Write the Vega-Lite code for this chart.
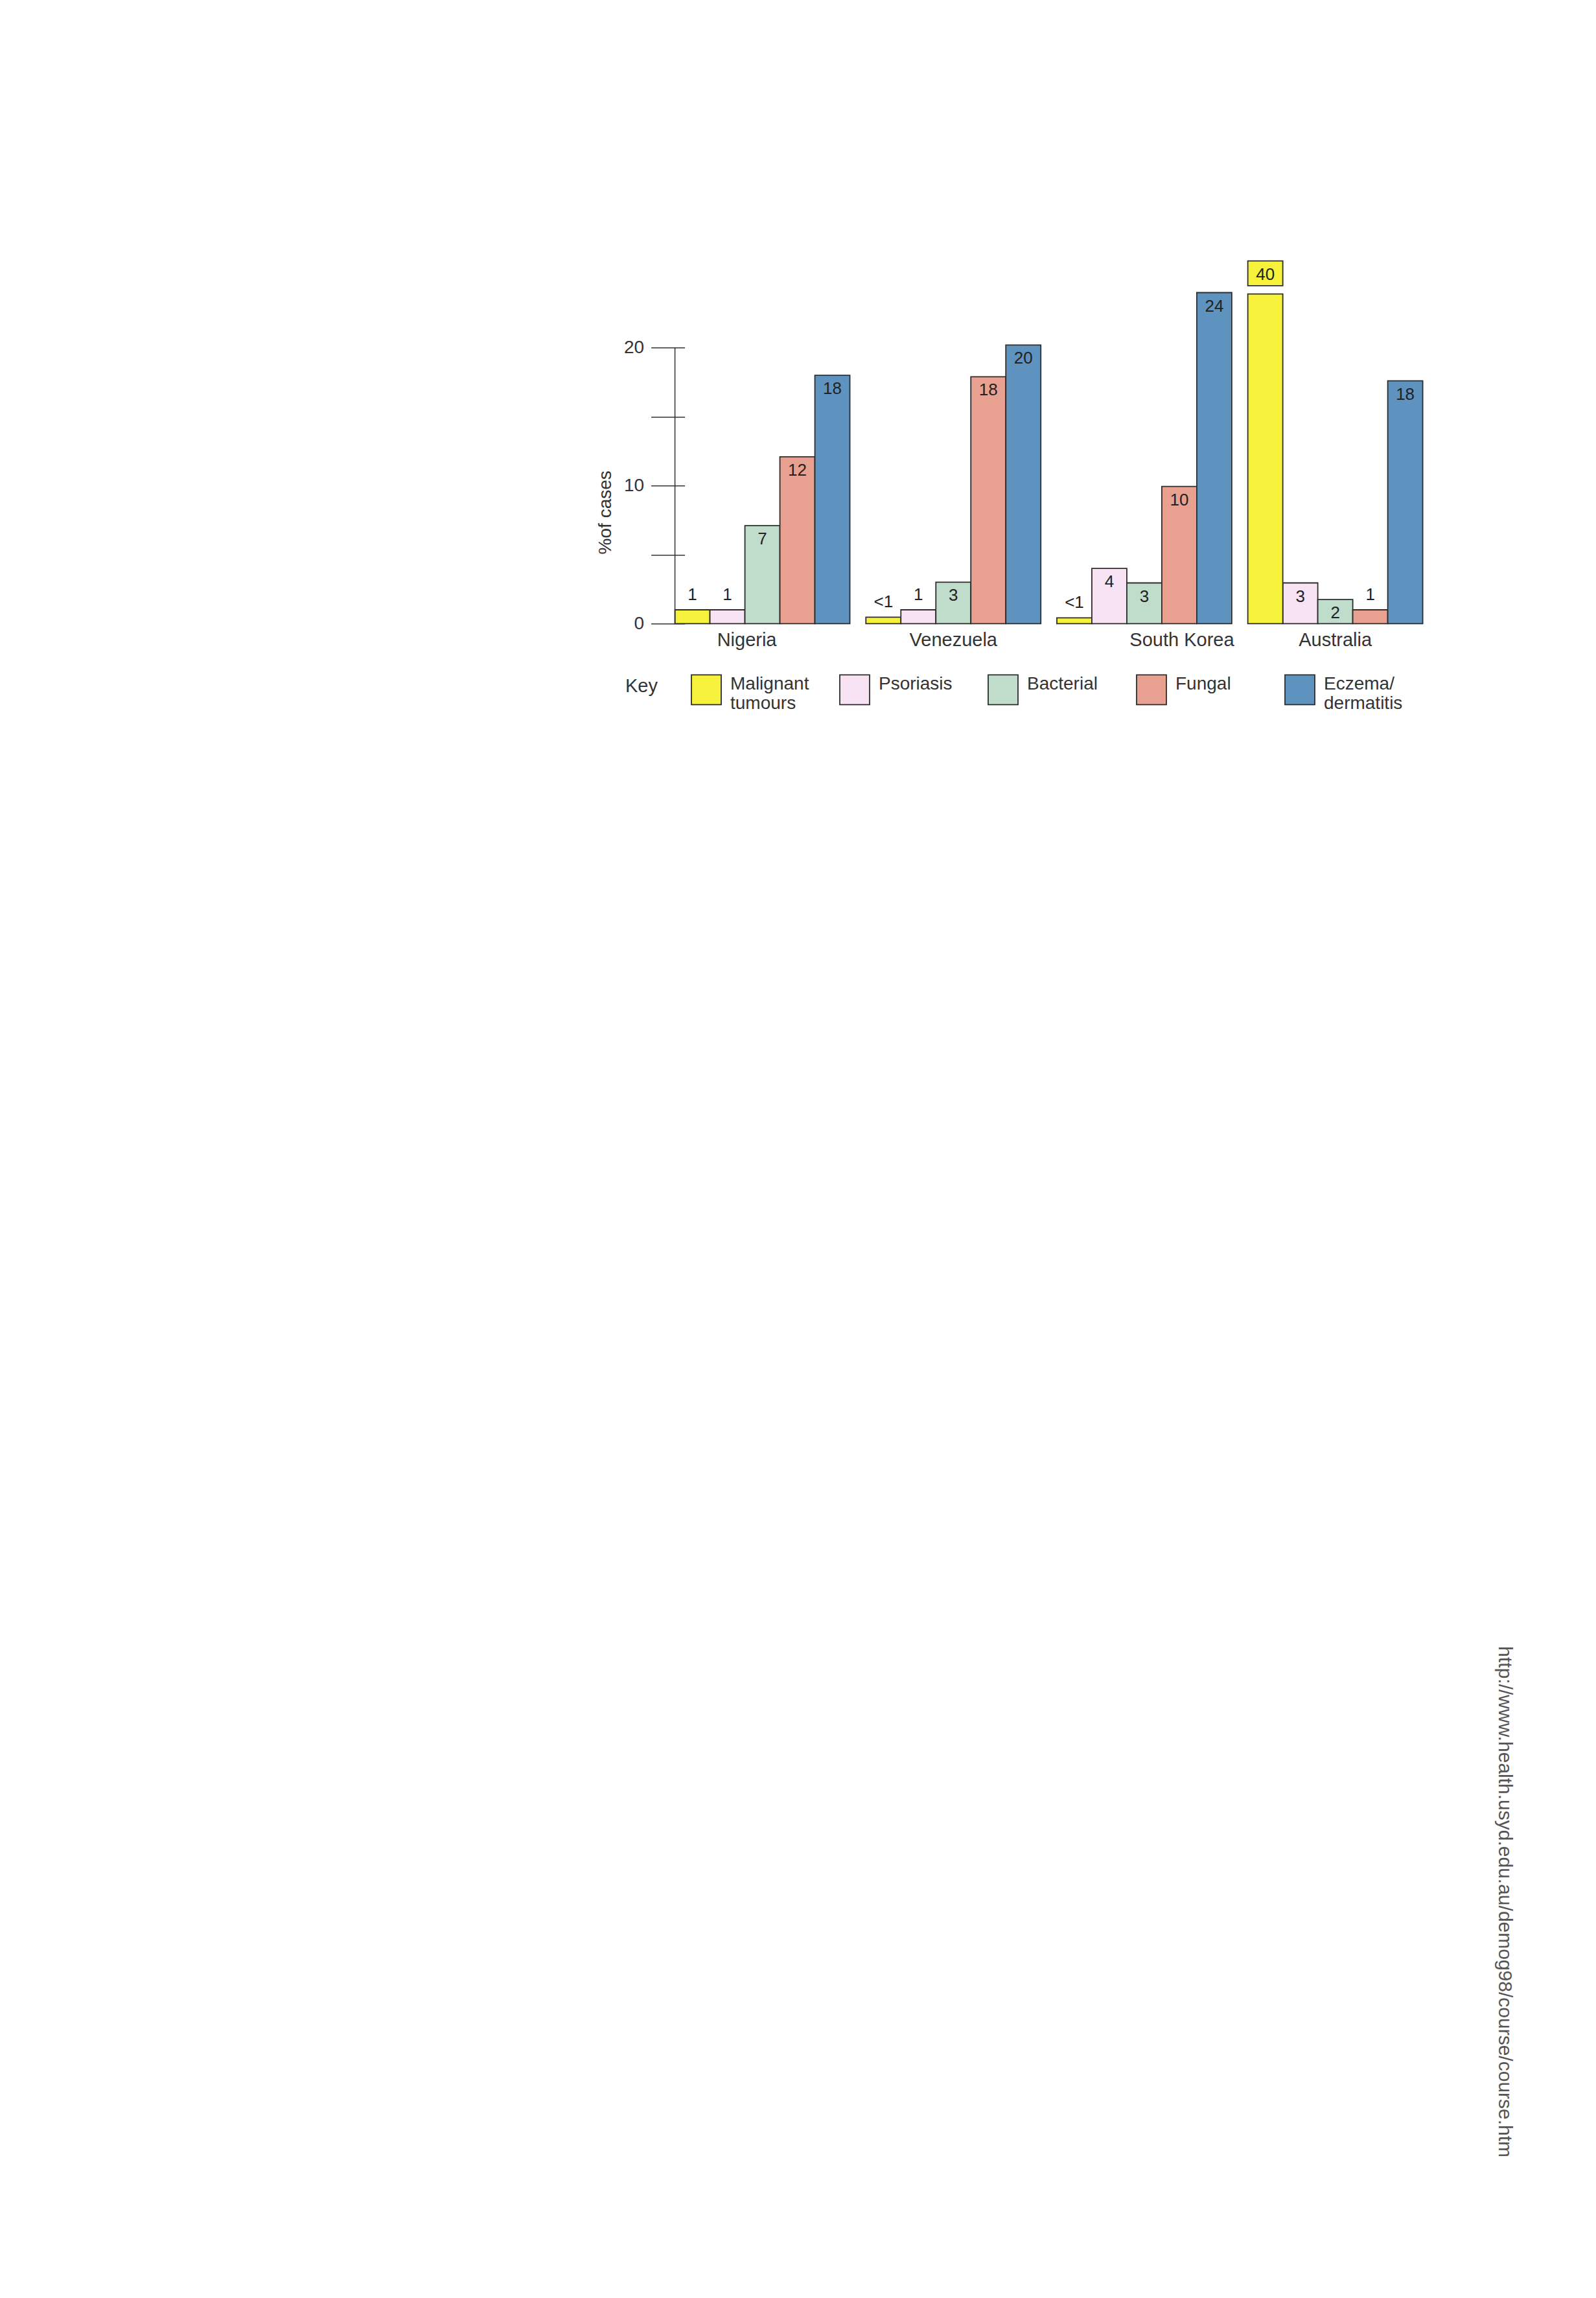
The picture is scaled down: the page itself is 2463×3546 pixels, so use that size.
{
  "$schema": "https://vega.github.io/schema/vega-lite/v6.json",
  "autosize": {"type": "none"},
  "padding": {"left": 1041.6, "top": 398.3, "right": 267.4, "bottom": 2583.7},
  "width": 1154,
  "height": 564,
  "background": "#ffffff",
  "config": {
    "view": {"stroke": null},
    "font": "Liberation Sans"
  },
  "title": {
    "text": "http://www.health.usyd.edu.au/demog98/course/course.htm",
    "orient": "right",
    "anchor": "start",
    "frame": "group",
    "offset": 110,
    "dx": 2142,
    "font": "Liberation Sans",
    "fontSize": 30,
    "fontWeight": "normal",
    "color": "#555555"
  },
  "datasets": {
    "main": [
      {"country": "Nigeria", "disease": "Malignant tumours", "value": 1, "label": "1"},
      {"country": "Nigeria", "disease": "Psoriasis", "value": 1, "label": "1"},
      {"country": "Nigeria", "disease": "Bacterial", "value": 7.1, "label": "7"},
      {"country": "Nigeria", "disease": "Fungal", "value": 12.1, "label": "12"},
      {"country": "Nigeria", "disease": "Eczema/dermatitis", "value": 18, "label": "18"},
      {"country": "Venezuela", "disease": "Malignant tumours", "value": 0.47, "label": "<1"},
      {"country": "Venezuela", "disease": "Psoriasis", "value": 1, "label": "1"},
      {"country": "Venezuela", "disease": "Bacterial", "value": 3, "label": "3"},
      {"country": "Venezuela", "disease": "Fungal", "value": 17.9, "label": "18"},
      {"country": "Venezuela", "disease": "Eczema/dermatitis", "value": 20.2, "label": "20"},
      {"country": "South Korea", "disease": "Malignant tumours", "value": 0.42, "label": "<1"},
      {"country": "South Korea", "disease": "Psoriasis", "value": 4, "label": "4"},
      {"country": "South Korea", "disease": "Bacterial", "value": 2.95, "label": "3"},
      {"country": "South Korea", "disease": "Fungal", "value": 9.95, "label": "10"},
      {"country": "South Korea", "disease": "Eczema/dermatitis", "value": 24, "label": "24"},
      {"country": "Australia", "disease": "Malignant tumours", "value": 40, "label": "40"},
      {"country": "Australia", "disease": "Psoriasis", "value": 2.95, "label": "3"},
      {"country": "Australia", "disease": "Bacterial", "value": 1.75, "label": "2"},
      {"country": "Australia", "disease": "Fungal", "value": 1, "label": "1"},
      {"country": "Australia", "disease": "Eczema/dermatitis", "value": 17.6, "label": "18"}
    ],
    "broken": [
      {"country": "Australia", "disease": "Malignant tumours", "lo": 0, "hi": 23.9, "label": ""},
      {"country": "Australia", "disease": "Malignant tumours", "lo": 24.5, "hi": 26.3, "label": "40"}
    ]
  },
  "encoding": {
    "x": {
      "field": "country",
      "type": "nominal",
      "scale": {"domain": ["Nigeria", "Venezuela", "South Korea", "Australia"], "paddingInner": 0.084, "paddingOuter": 0},
      "axis": null
    },
    "xOffset": {
      "field": "disease",
      "type": "nominal",
      "scale": {"domain": ["Malignant tumours", "Psoriasis", "Bacterial", "Fungal", "Eczema/dermatitis"], "paddingInner": 0, "paddingOuter": 0}
    }
  },
  "layer": [
    {
      "data": {"name": "main"},
      "transform": [{"filter": "datum.value <= 30"}],
      "mark": {"type": "bar", "stroke": "#2d2d2d", "strokeWidth": 1.8, "opacity": 1},
      "encoding": {
        "y": {
          "field": "value",
          "type": "quantitative",
          "scale": {"domain": [0, 26.5], "nice": false, "zero": true},
          "axis": {
            "values": [0, 5, 10, 15, 20],
            "offset": -15,
            "tickSize": 52,
            "tickColor": "#333333",
            "tickWidth": 1.5,
            "domain": false,
            "grid": false,
            "labelExpr": "datum.value % 10 === 0 ? datum.label : ''",
            "labelPadding": 11,
            "labelFont": "Liberation Sans",
            "labelFontSize": 28,
            "labelColor": "#333333",
            "title": "%of cases",
            "titleFont": "Liberation Sans",
            "titleFontSize": 28,
            "titleFontWeight": "normal",
            "titleColor": "#333333",
            "titlePadding": 14,
            "titleY": 392
          }
        },
        "color": {
          "field": "disease",
          "type": "nominal",
          "scale": {
            "domain": ["Malignant tumours", "Psoriasis", "Bacterial", "Fungal", "Eczema/dermatitis"],
            "range": ["#f6f23c", "#f7e3f3", "#c0dccb", "#e8a090", "#5e93bf"]
          },
          "legend": {
            "orient": "none",
            "legendX": -76.6,
            "legendY": 642,
            "direction": "horizontal",
            "columns": 5,
            "gridAlign": "all",
            "columnPadding": 43,
            "padding": 0,
            "title": "Key",
            "titleOrient": "left",
            "titleAnchor": "start",
            "titlePadding": 51,
            "titleFont": "Liberation Sans",
            "titleFontSize": 29,
            "titleFontWeight": "normal",
            "titleColor": "#333333",
            "titleBaseline": "line-top",
            "titleLineHeight": 40,
            "labelFont": "Liberation Sans",
            "labelFontSize": 28,
            "labelColor": "#333333",
            "labelOffset": 13,
            "labelBaseline": "alphabetic",
            "labelLineHeight": 32,
            "labelLimit": 400,
            "symbolType": "square",
            "symbolSize": 2116,
            "symbolStrokeColor": "#2d2d2d",
            "symbolStrokeWidth": 1.8,
            "symbolOpacity": 1,
            "labelExpr": "datum.label === 'Malignant tumours' ? ['Malignant', 'tumours'] : datum.label === 'Eczema/dermatitis' ? ['Eczema/', 'dermatitis'] : [datum.label, '']"
          }
        }
      }
    },
    {
      "data": {"name": "broken"},
      "mark": {"type": "bar", "stroke": "#2d2d2d", "strokeWidth": 1.8, "opacity": 1},
      "encoding": {
        "y": {"field": "lo", "type": "quantitative"},
        "y2": {"field": "hi"},
        "color": {"field": "disease", "type": "nominal"}
      }
    },
    {
      "data": {"name": "main"},
      "transform": [{"filter": "datum.value >= 1.5 && datum.value <= 30"}],
      "mark": {"type": "text", "baseline": "top", "dy": 8, "fontSize": 26, "font": "Liberation Sans", "color": "#222222"},
      "encoding": {
        "y": {"field": "value", "type": "quantitative"},
        "text": {"field": "label"}
      }
    },
    {
      "data": {"name": "main"},
      "transform": [{"filter": "datum.value < 1.5"}],
      "mark": {"type": "text", "baseline": "alphabetic", "dy": -15, "fontSize": 26, "font": "Liberation Sans", "color": "#222222"},
      "encoding": {
        "y": {"field": "value", "type": "quantitative"},
        "text": {"field": "label"}
      }
    },
    {
      "data": {"name": "broken"},
      "transform": [{"filter": "datum.label !== ''"}],
      "mark": {"type": "text", "baseline": "top", "dy": 8, "fontSize": 26, "font": "Liberation Sans", "color": "#222222"},
      "encoding": {
        "y": {"field": "hi", "type": "quantitative"},
        "text": {"field": "label"}
      }
    },
    {
      "data": {"name": "main"},
      "transform": [{"filter": "datum.disease === 'Malignant tumours' && (datum.country === 'Venezuela' || datum.country === 'Australia')"}],
      "mark": {"type": "text", "baseline": "top", "dy": 12, "fontSize": 29, "font": "Liberation Sans", "color": "#333333"},
      "encoding": {
        "xOffset": null,
        "y": {"datum": 0},
        "text": {"field": "country"}
      }
    },
    {
      "data": {"name": "main"},
      "transform": [{"filter": "datum.disease === 'Malignant tumours' && datum.country === 'Nigeria'"}],
      "mark": {"type": "text", "baseline": "top", "dy": 12, "dx": -24, "fontSize": 29, "font": "Liberation Sans", "color": "#333333"},
      "encoding": {
        "xOffset": null,
        "y": {"datum": 0},
        "text": {"field": "country"}
      }
    },
    {
      "data": {"name": "main"},
      "transform": [{"filter": "datum.disease === 'Malignant tumours' && datum.country === 'South Korea'"}],
      "mark": {"type": "text", "baseline": "top", "dy": 12, "dx": 58, "fontSize": 29, "font": "Liberation Sans", "color": "#333333"},
      "encoding": {
        "xOffset": null,
        "y": {"datum": 0},
        "text": {"field": "country"}
      }
    },
    {
      "data": {"values": [{"part": "y axis line"}]},
      "mark": {"type": "rule", "color": "#333333", "strokeWidth": 1.5},
      "encoding": {
        "x": {"datum": "Nigeria", "bandPosition": 0},
        "xOffset": null,
        "y": {"datum": 0},
        "y2": {"datum": 20}
      }
    }
  ]
}
